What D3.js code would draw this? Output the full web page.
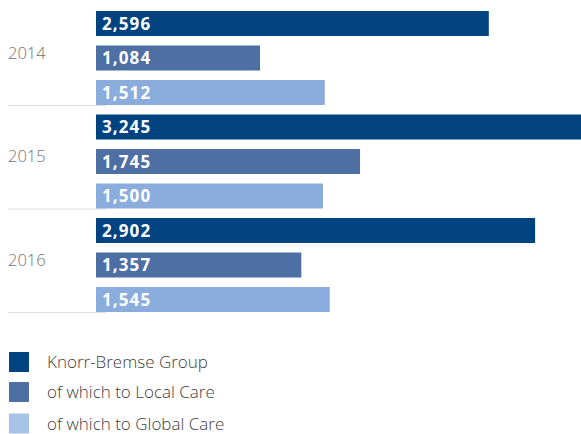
<!DOCTYPE html>
<html><head><meta charset="utf-8">
<script src="https://cdn.jsdelivr.net/npm/d3@7"></script>
<style>
body{margin:0;background:#fff;}
svg{display:block;font-family:"Open Sans",sans-serif;}
</style></head>
<body><svg id="c" width="581" height="434"></svg>
<script>
const years = ["2014","2015","2016"];
const seriesNames = ["Knorr-Bremse Group","of which to Local Care","of which to Global Care"];
const group  = [2596, 3245, 2902];
const local  = [1084, 1745, 1357];
const global = [1512, 1500, 1545];
const barColors = ["#004381","#4e6fa3","#8aaddd"];
const legendColors = ["#004381","#4e6fa3","#a8c3e8"];

const svg = d3.select("#c");
const x = d3.scaleLinear().domain([0, 3245]).range([96, 587]);
const y0 = d3.scaleBand().domain(years).range([11, 11 + 3*103.5]);
const y1 = d3.scaleBand().domain([0,1,2]).range([0, 94]).paddingInner(0.275);
const fmt = d3.format(",");
const vals = [group, local, global];

years.forEach((yr, i) => {
  const g = svg.append("g").attr("transform", `translate(0,${y0(yr)})`);
  g.append("line").attr("x1", 8).attr("x2", 106).attr("y1", 94.5).attr("y2", 94.5)
    .attr("stroke", "#dcdcdc").attr("stroke-width", 1);
  g.append("text").attr("x", 8).attr("y", 42).attr("dy", "0.35em")
    .attr("fill", "#707070").attr("font-size", 16.5).attr("font-weight", 300).text(yr);
  vals.forEach((s, j) => {
    g.append("rect").attr("x", x(0)).attr("y", y1(j))
      .attr("width", x(s[i]) - x(0)).attr("height", y1.bandwidth())
      .attr("fill", barColors[j]);
    g.append("text").attr("x", x(0) + 6).attr("y", y1(j) + y1.bandwidth()/2).attr("dy", "0.36em")
      .attr("fill", "#fff").attr("font-size", 17).attr("letter-spacing", 1.1)
      .attr("font-weight", 700).text(fmt(s[i]));
  });
});

const leg = svg.append("g");
const ly = [352, 382, 413.5];
seriesNames.forEach((n, j) => {
  leg.append("rect").attr("x", 9).attr("y", ly[j]).attr("width", 20).attr("height", 20).attr("fill", legendColors[j]);
  leg.append("text").attr("x", 47).attr("y", ly[j] + 10).attr("dy", "0.38em")
    .attr("fill", "#404040").attr("font-size", 17).attr("font-weight", 300).text(n);
});
</script></body></html>
